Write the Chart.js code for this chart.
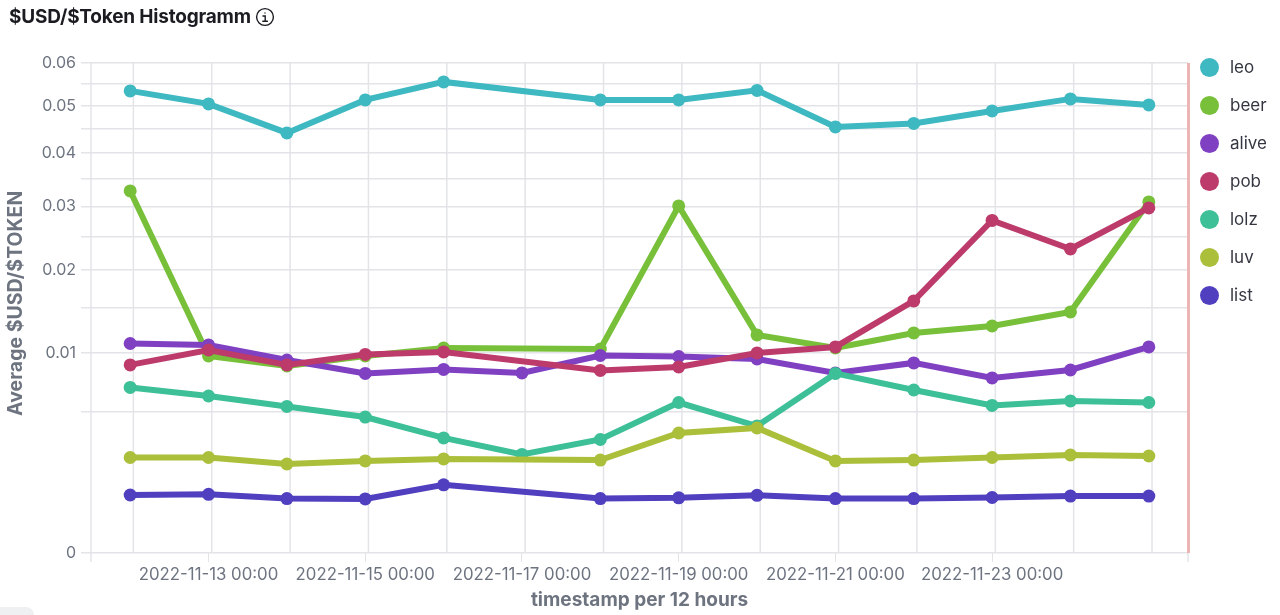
<!DOCTYPE html>
<html>
<head>
<meta charset="utf-8">
<title>$USD/$Token Histogramm</title>
<script src="https://cdn.jsdelivr.net/npm/chart.js@4"></script>
<style>
  html, body { margin:0; padding:0; background:#fff; width:1280px; height:615px; overflow:hidden; font-family:Inter, sans-serif; }
  #chart { position:absolute; left:0; top:0; }
  #title { position:absolute; left:9px; top:6px; font-size:19px; line-height:22px; font-weight:700; color:#1a1c21; white-space:nowrap; letter-spacing:-0.2px; }
  #title svg { position:absolute; left:246px; top:1px; }
  #legend { position:absolute; left:1200px; top:48px; margin:0; padding:0; list-style:none; }
  #legend li { height:38px; display:flex; align-items:center; font-size:17px; color:#343741; }
  #legend i { display:block; width:19px; height:19px; border-radius:50%; margin-right:11px; }
  #corner { position:absolute; left:0; top:607px; width:34px; height:12px; background:#eff0f2; border-radius:0 8px 0 0; }
</style>
</head>
<body>
<canvas id="chart" width="1280" height="615"></canvas>
<div id="title">$USD/$Token Histogramm
  <svg width="20" height="20" viewBox="0 0 20 20" fill="none" stroke="#1a1c21" stroke-width="1.4">
    <circle cx="10" cy="10" r="8.4"/>
    <path d="M8 9h2.2v5M7.8 14.2h4.6" stroke-linecap="round"/>
    <circle cx="10" cy="6" r="0.7" fill="#1a1c21" stroke="none"/>
  </svg>
</div>
<ul id="legend"></ul>
<div id="corner"></div>
<script>
/* time buckets on the x axis */
const buckets = ['2022-11-12 00:00','2022-11-13 00:00','2022-11-14 00:00','2022-11-15 00:00','2022-11-16 00:00',
  '2022-11-17 00:00','2022-11-18 00:00','2022-11-19 00:00','2022-11-20 00:00','2022-11-21 00:00',
  '2022-11-22 00:00','2022-11-23 00:00','2022-11-24 00:00','2022-11-25 00:00'];
const labelledBuckets = ['2022-11-13 00:00','2022-11-15 00:00','2022-11-17 00:00','2022-11-19 00:00','2022-11-21 00:00','2022-11-23 00:00'];

const leo   = [0.05336,0.0504,0.0441,0.0513,0.05546,null,0.0513,0.0513,0.05348,0.04537,0.04612,0.04884,0.05153,0.05018];
const beer  = [0.03276,0.0097,0.00874,0.0097,0.0105,null,0.0104,0.0301,0.01188,0.0105,0.0121,0.01288,0.01452,0.0308];
const alive = [0.01097,0.01082,0.00931,0.00806,0.00842,0.0081,0.00975,0.00965,0.00941,0.0081,0.00903,0.00766,0.00837,0.01061];
const pob   = [0.00884,0.0103,0.00884,0.00985,0.0101,null,0.00833,0.00865,0.01,0.01061,0.01588,0.02764,0.0231,0.02976];
const lolz  = [0.00685,0.00616,0.00537,0.00462,0.00331,0.00243,0.00322,0.00566,0.00403,0.00806,0.00664,0.00544,0.00578,0.00566];
const luv   = [0.00228,0.00228,0.00198,0.00212,0.00221,null,0.00216,0.0036,0.00391,0.00212,0.00216,0.00228,0.0024,0.00235];
const list  = [0.00084,0.00086,0.00074,0.00073,0.00116,null,0.00074,0.00076,0.00083,0.00074,0.00074,0.00077,0.00081,0.00081];

const seriesNames = ['leo','beer','alive','pob','lolz','luv','list'];
const seriesValues = [leo, beer, alive, pob, lolz, luv, list];
const seriesColors = ['#3eb8c1','#78c03a','#8040c2','#bc3b6b','#3dbf97','#abbf3b','#5040c0'];

const yTickValues = [0,0.005,0.01,0.015,0.02,0.025,0.03,0.035,0.04,0.045,0.05,0.055,0.06];
const yTickLabels = ['0','','0.01','','0.02','','0.03','','0.04','','0.05','','0.06'];

const GRID = '#e3e4e8';
const TEXT = '#6d7480';

// the y axis is a square root scale
class SqrtScale extends Chart.LinearScale {
  getPixelForValue(value){
    if(value === null || value === undefined) return NaN;
    return this.getPixelForDecimal(Math.sqrt((value - this.min) / (this.max - this.min)));
  }
  getValueForPixel(pixel){
    const d = this.getDecimalForPixel(pixel);
    return this.min + d * d * (this.max - this.min);
  }
}
SqrtScale.id = 'sqrt';
SqrtScale.defaults = Chart.LinearScale.defaults;
Chart.register(SqrtScale);

// frame, shifted vertical grid and the pink marker on the right edge
const framePlugin = {
  id:'frame',
  beforeDatasetsDraw(chart){
    const {ctx, chartArea:a, scales:{x}} = chart;
    ctx.save();
    ctx.lineWidth = 1.5;
    ctx.strokeStyle = GRID;
    buckets.forEach((b, i) => {
      const px = x.getPixelForValue(i) + 3.2;
      ctx.beginPath(); ctx.moveTo(px, a.top); ctx.lineTo(px, a.bottom); ctx.stroke();
    });
    [a.left, a.right].forEach(px => {
      ctx.beginPath(); ctx.moveTo(px, a.top); ctx.lineTo(px, a.bottom + 9); ctx.stroke();
    });
    ctx.fillStyle = '#eeb5b5';
    ctx.fillRect(a.right - 1, a.top, 3, a.bottom - a.top);
    ctx.restore();
  }
};

new Chart(document.getElementById('chart'), {
  type:'line',
  data:{
    labels:buckets,
    datasets:seriesNames.map((name, i) => ({
      label:name,
      data:seriesValues[i],
      borderColor:seriesColors[i],
      backgroundColor:seriesColors[i],
      borderWidth:6,
      pointRadius:6.5,
      pointBorderWidth:0,
      pointHoverRadius:6.5,
      spanGaps:true,
      tension:0,
      order:seriesNames.length - i
    }))
  },
  options:{
    responsive:false,
    animation:false,
    layout:{padding:{top:63, right:92, left:0, bottom:0}},
    plugins:{legend:{display:false}, tooltip:{enabled:false}},
    scales:{
      x:{
        type:'category',
        offset:true,
        afterFit(s){ s.height = 62; },
        border:{display:false},
        grid:{
          offset:false,
          drawOnChartArea:false,
          tickLength:9,
          tickColor:ctx => labelledBuckets.includes(buckets[ctx.index]) ? GRID : 'transparent'
        },
        ticks:{
          autoSkip:false, maxRotation:0, padding:3,
          color:TEXT, font:{family:'Inter', size:16.8},
          callback(v, i){ return labelledBuckets.includes(buckets[i]) ? buckets[i] : ''; }
        },
        title:{
          display:true, text:'timestamp per 12 hours',
          color:TEXT, font:{family:'Inter', size:19, weight:'700'},
          padding:{top:0, bottom:3}
        }
      },
      y:{
        type:'sqrt',
        min:0, max:0.06,
        afterFit(s){ s.width = 91; },
        afterBuildTicks(s){ s.ticks = yTickValues.map(value => ({value})); },
        border:{display:false},
        grid:{color:GRID, lineWidth:1.5, tickLength:10, tickColor:GRID},
        ticks:{
          autoSkip:false, padding:5,
          color:TEXT, font:{family:'Inter', size:16},
          callback(v, i){ return yTickLabels[i]; }
        },
        title:{
          display:true, text:'  Average $USD/$TOKEN',
          color:TEXT, font:{family:'Inter', size:19.5, weight:'700'},
          padding:{top:4, bottom:0}
        }
      }
    }
  },
  plugins:[framePlugin]
});

document.getElementById('legend').innerHTML = seriesNames.map((name, i) =>
  `<li><i style="background:${seriesColors[i]}"></i>${name}</li>`).join('');
</script>
</body>
</html>
